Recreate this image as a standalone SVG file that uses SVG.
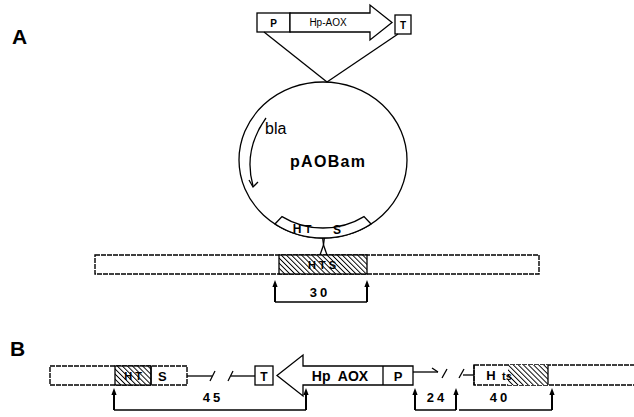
<svg xmlns="http://www.w3.org/2000/svg" width="634" height="417" viewBox="0 0 634 417">
<style>
.ln{fill:none;stroke:#000;stroke-width:1.3}
.tk{fill:none;stroke:#000;stroke-width:2}
.bx{fill:#fff;stroke:#000;stroke-width:1.3}
.bar{fill:#fff;stroke:#000;stroke-width:1.4;stroke-dasharray:5 1}
.t{font-family:"Liberation Sans",Arial,sans-serif;font-weight:bold;fill:#000}
.lab{font-family:"Liberation Sans",Arial,sans-serif;font-weight:bold;font-size:21px;fill:#000}
</style>
<defs>
<pattern id="hatch" width="3.6" height="3.6" patternUnits="userSpaceOnUse" patternTransform="rotate(-45)">
<rect width="3.6" height="3.6" fill="#fff"/>
<line x1="0" y1="0" x2="0" y2="3.6" stroke="#000" stroke-width="1.9"/>
</pattern>
<path id="tick" d="M-2.6,7 L0,0 L2.6,7 Z" fill="#000"/>
</defs>

<text class="lab" x="12" y="44">A</text>
<text class="lab" x="10" y="356">B</text>

<g id="cassette-A">
<rect class="bx" x="257" y="13" width="33" height="19"/>
<text class="t" x="273.5" y="26.5" font-size="10" text-anchor="middle">P</text>
<path class="bx" d="M290,13 L370,13 L370,5 L392,22.5 L370,40 L370,32 L290,32 Z"/>
<text class="t" x="328" y="26" font-size="10" text-anchor="middle" style="font-weight:normal">Hp-AOX</text>
<rect class="bx" x="395" y="15" width="16" height="19"/>
<text class="t" x="403" y="28.5" font-size="10" text-anchor="middle">T</text>
</g>

<g id="connectors">
<line class="ln" x1="264" y1="32" x2="327" y2="82"/>
<line class="ln" x1="398" y1="34" x2="327" y2="82"/>
<line class="ln" x1="321.5" y1="228" x2="323.5" y2="245"/>
<line class="ln" x1="325.5" y1="228" x2="323.5" y2="245"/>
<line class="ln" x1="323.5" y1="245" x2="320" y2="255"/>
<line class="ln" x1="323.5" y1="245" x2="327" y2="255"/>
</g>

<g id="plasmid">
<ellipse class="ln" cx="323" cy="160" rx="84" ry="78"/>
<path class="ln" d="M266,118 Q243,150 253,186"/>
<path class="ln" d="M249,180 L253,187 L258,182"/>
<text class="t" x="265" y="134" font-size="16" style="font-weight:normal">bla</text>
<text class="t" x="290" y="167" font-size="16" textLength="75">pAOBam</text>
<path class="bx" d="M275,224 A84,78 0 0 0 371,224 L364,216.6 A74,68 0 0 1 282,216.6 Z"/>
<text class="t" x="297" y="233" font-size="12" text-anchor="middle">H</text>
<text class="t" x="308" y="233" font-size="11" text-anchor="middle">T</text>
<text class="t" x="337" y="234" font-size="12" text-anchor="middle">S</text>
</g>

<g id="chromosome-A">
<rect class="bar" x="95" y="255" width="444" height="19"/>
<rect x="279" y="255" width="88" height="19" fill="url(#hatch)" stroke="#000" stroke-width="1.3"/>
<text class="t" x="322" y="269" font-size="11" text-anchor="middle">H T S</text>
</g>

<g id="dim-30">
<line class="tk" x1="275" y1="284" x2="275" y2="302"/>
<use href="#tick" x="275" y="280"/>
<line class="tk" x1="367" y1="284" x2="367" y2="302"/>
<use href="#tick" x="367" y="280"/>
<line class="ln" x1="275" y1="302" x2="367" y2="302"/>
<text class="t" x="320" y="297" font-size="13" text-anchor="middle" letter-spacing="3">30</text>
</g>

<g id="locus-B-left">
<rect class="bar" x="50" y="366" width="137" height="19"/>
<rect x="115" y="366" width="36" height="19" fill="url(#hatch)" stroke="#000" stroke-width="1.3"/>
<text class="t" x="133" y="380" font-size="11" text-anchor="middle">H T</text>
<line class="ln" x1="151" y1="366" x2="151" y2="385"/>
<text class="t" x="158" y="381" font-size="13">S</text>
<line class="ln" x1="187" y1="376" x2="212" y2="376"/>
<line class="ln" x1="210" y1="381" x2="215" y2="371"/>
<line class="ln" x1="228" y1="381" x2="233" y2="371"/>
<line class="ln" x1="231" y1="376" x2="255" y2="376"/>
</g>

<g id="cassette-B">
<rect class="bx" x="255" y="366" width="18" height="19"/>
<text class="t" x="264" y="380.5" font-size="12" text-anchor="middle">T</text>
<path class="bx" d="M277,375.5 L303,355 L303,366 L413,366 L413,385 L303,385 L303,396 Z"/>
<line class="ln" x1="383" y1="366" x2="383" y2="385"/>
<text class="t" x="340" y="381" font-size="14" text-anchor="middle" word-spacing="4">Hp AOX</text>
<text class="t" x="398" y="381" font-size="13" text-anchor="middle">P</text>
<line class="ln" x1="413" y1="372" x2="438" y2="372"/>
<path class="ln" d="M432,368 L438,372"/>
<line class="ln" x1="442" y1="378" x2="447" y2="369"/>
<line class="ln" x1="459" y1="378" x2="464" y2="369"/>
<line class="ln" x1="463" y1="375" x2="474" y2="375"/>
</g>

<g id="locus-B-right">
<rect class="bar" x="474" y="365" width="162" height="20"/>
<rect x="508" y="365" width="40" height="20" fill="url(#hatch)"/>
<line class="ln" x1="474" y1="365" x2="474" y2="385"/>
<line class="ln" x1="548" y1="365" x2="548" y2="385"/>
<text class="t" x="491" y="380" font-size="13" text-anchor="middle">H</text>
<text class="t" x="507" y="380" font-size="11" text-anchor="middle">ts</text>
</g>

<g id="dims-B">
<line class="tk" x1="114" y1="392" x2="114" y2="410"/>
<use href="#tick" x="114" y="388"/>
<line class="tk" x1="306" y1="392" x2="306" y2="410"/>
<use href="#tick" x="306" y="388"/>
<line class="ln" x1="114" y1="410" x2="306" y2="410"/>
<text class="t" x="213" y="402" font-size="13" text-anchor="middle" letter-spacing="3">45</text>
<line class="tk" x1="415" y1="392" x2="415" y2="410"/>
<use href="#tick" x="415" y="388"/>
<line class="tk" x1="456" y1="392" x2="456" y2="410"/>
<use href="#tick" x="456" y="388"/>
<line class="ln" x1="415" y1="410" x2="456" y2="410"/>
<text class="t" x="437" y="402" font-size="13" text-anchor="middle" letter-spacing="3">24</text>
<line class="tk" x1="552" y1="392" x2="552" y2="410"/>
<use href="#tick" x="552" y="388"/>
<line class="ln" x1="459" y1="410" x2="552" y2="410"/>
<text class="t" x="500" y="402" font-size="13" text-anchor="middle" letter-spacing="3">40</text>
</g>
</svg>
